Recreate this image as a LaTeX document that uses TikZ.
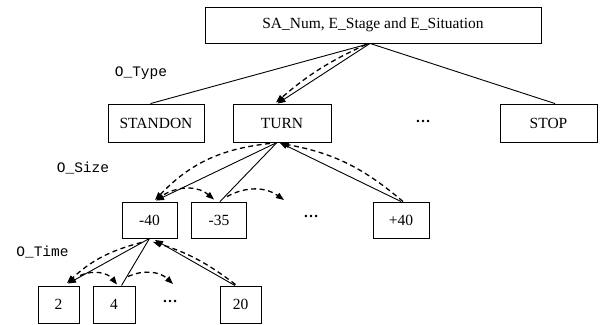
\documentclass[tikz,border=0pt]{standalone}
\usepackage{fontspec}
\setmainfont{Liberation Serif}
\newfontfamily\lblfont{Liberation Mono}
\usetikzlibrary{arrows.meta}
\begin{document}
\begin{tikzpicture}[x=1pt,y=-1pt,
  box/.style={draw,line width=0.9pt,inner sep=0pt,font=\fontsize{15.5}{18}\selectfont},
  lbl/.style={font=\lblfont\fontsize{14.5}{18}\selectfont},
  dotsnode/.style={font=\bfseries\fontsize{15}{18}\selectfont},
  solidln/.style={line width=0.9pt},
  solidarr/.style={line width=0.9pt,-{Triangle[length=8pt,width=6pt]}},
  dasharr/.style={line width=1.3pt,dash pattern=on 5pt off 3.5pt,-{Triangle[length=8pt,width=6pt]}}]
\useasboundingbox (0,0) rectangle (613,324);
% level 1
\node[box,minimum width=336pt,minimum height=36pt] (top) at (373,25) {SA\_Num, E\_Stage and E\_Situation};
% level 2
\node[box,minimum width=96pt,minimum height=38pt] (standon) at (156,123) {STANDON};
\node[box,minimum width=98pt,minimum height=38pt] (turn) at (282,123) {TURN};
\node[dotsnode] (dotsA) at (423,121) {…};
\node[box,minimum width=97pt,minimum height=38pt] (stop) at (548.5,123) {STOP};
% level 3
\node[box,minimum width=55pt,minimum height=36pt] (m40) at (149.5,220) {-40};
\node[box,minimum width=55pt,minimum height=36pt] (m35) at (219,220) {-35};
\node[dotsnode] (dotsB) at (311,216) {…};
\node[box,minimum width=56pt,minimum height=36pt] (p40) at (401,220) {+40};
% level 4
\node[box,minimum width=41pt,minimum height=37pt] (t2) at (58.5,304.5) {2};
\node[box,minimum width=42pt,minimum height=37pt] (t4) at (114,304.5) {4};
\node[dotsnode] (dotsC) at (170,301) {…};
\node[box,minimum width=41pt,minimum height=37pt] (t20) at (240.5,304.5) {20};
% labels
\node[lbl] (ltype) at (141,73) {O\_Type};
\node[lbl] (lsize) at (83,168) {O\_Size};
\node[lbl] (ltime) at (42.5,252) {O\_Time};
% free ends
\coordinate (freeA) at (284,200);
\coordinate (freeB) at (173,284);
% level 1 -> 2
\draw[solidln] ([xshift=-3pt]top.south) -- ([xshift=-5.5pt]standon.north);
\draw[solidln] ([xshift=-3pt]top.south) -- ([xshift=6.5pt]stop.north);
\draw[solidarr] ([xshift=-3pt]top.south) -- ([xshift=-4.5pt]turn.north);
\draw[dasharr] ([xshift=-7pt,yshift=-1pt]top.south) to[bend right=8] ([xshift=-6pt,yshift=1pt]turn.north);
% level 2 -> 3
\draw[solidarr] ([xshift=-5pt]turn.south) -- ([xshift=6.5pt,yshift=1pt]m40.north);
\draw[solidln] ([xshift=-5pt]turn.south) -- ([xshift=1pt]m35.north);
\draw[solidarr] (p40.north) -- ([xshift=-2.5pt]turn.south);
\draw[dasharr] ([xshift=-12pt,yshift=-1pt]turn.south) to[bend right=20] ([xshift=5.5pt,yshift=1.5pt]m40.north);
\draw[dasharr] ([xshift=2pt]p40.north) to[bend right=15] ([xshift=-1pt,yshift=-1pt]turn.south);
\draw[dasharr] ([xshift=14.5pt,yshift=7pt]m40.north) to[bend left=35] ([xshift=-5pt,yshift=2pt]m35.north);
\draw[dasharr] ([xshift=8pt,yshift=5pt]m35.north) to[bend left=32] (freeA);
% level 3 -> 4
\draw[solidarr] (m40.south) -- ([xshift=9.5pt,yshift=2pt]t2.north);
\draw[solidln] (m40.south) -- ([xshift=7.5pt]t4.north);
\draw[solidarr] ([xshift=-5.5pt]t20.north) -- ([xshift=5.5pt,yshift=-1.5pt]m40.south);
\draw[dasharr] ([xshift=-8pt,yshift=-4pt]m40.south) to[bend right=14] ([xshift=8.5pt,yshift=2.5pt]t2.north);
\draw[dasharr] ([xshift=-5pt,yshift=1pt]t20.north) to[bend right=10] ([xshift=3.5pt,yshift=-3.5pt]m40.south);
\draw[dasharr] ([xshift=21.5pt,yshift=10pt]t2.north) to[bend left=38] ([xshift=3pt,yshift=1pt]t4.north);
\draw[dasharr] ([xshift=14pt,yshift=9pt]t4.north) to[bend left=34] (freeB);
\end{tikzpicture}
\end{document}
